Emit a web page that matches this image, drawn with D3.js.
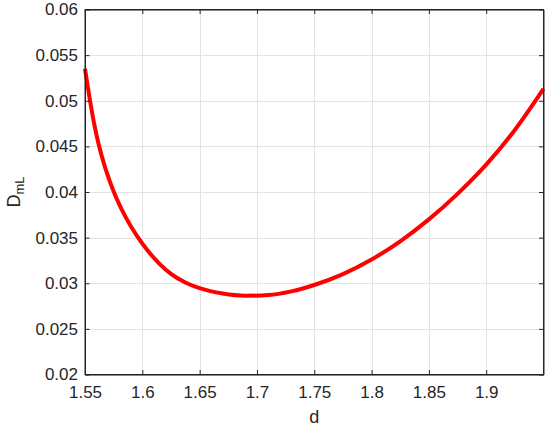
<!DOCTYPE html>
<html>
<head>
<meta charset="utf-8">
<script src="https://cdn.jsdelivr.net/npm/d3@7/dist/d3.min.js"></script>
<style>
html,body{margin:0;padding:0;background:#fff;}
text{font-family:"Liberation Sans",Arial,Helvetica,sans-serif;fill:#262626;}
</style>
</head>
<body>
<svg id="chart" width="550" height="427"></svg>
<script>
const dValues = [1.55,1.5544,1.558,1.5616,1.568,1.575,1.585,1.5956,1.605,1.615,1.625,1.6375,1.65,1.67,1.69,1.71,1.73,1.75,1.775,1.80,1.825,1.85,1.875,1.90,1.925,1.95];
const dmlValues = [0.0535,0.0500,0.04748,0.04539,0.04251,0.04006,0.03736,0.03513,0.03353,0.03213,0.03103,0.03009,0.02947,0.02887,0.02863,0.02871,0.02911,0.02981,0.0310,0.0326,0.0346,0.0370,0.0398,0.0430,0.0468,0.0513];
const xTicks = [1.55,1.6,1.65,1.7,1.75,1.8,1.85,1.9];
const yTicks = [0.02,0.025,0.03,0.035,0.04,0.045,0.05,0.055,0.06];
const xDomain = [1.55,1.95];
const yDomain = [0.02,0.06];

const svg = d3.select("#chart");
const L = 85, R = 543.5, T = 9.5, B = 374.5;
const x = d3.scaleLinear().domain(xDomain).range([L,R]);
const y = d3.scaleLinear().domain(yDomain).range([B,T]);
const axisCol = "#262626";
const fmt = v => String(+v.toFixed(4));

// grid
const g = svg.append("g");
g.selectAll(".vg").data(xTicks).enter().append("line")
  .attr("x1",d=>Math.round(x(d))+0.5).attr("x2",d=>Math.round(x(d))+0.5)
  .attr("y1",T).attr("y2",B).attr("stroke","#e3e3e3").attr("stroke-width",1);
g.selectAll(".hg").data(yTicks).enter().append("line")
  .attr("y1",d=>Math.round(y(d))+0.5).attr("y2",d=>Math.round(y(d))+0.5)
  .attr("x1",L).attr("x2",R).attr("stroke","#e3e3e3").attr("stroke-width",1);

// curve
const pts = dValues.map((d,i)=>[d,dmlValues[i]]);
svg.append("path").datum(pts)
  .attr("d", d3.line().x(p=>x(p[0])).y(p=>y(p[1])).curve(d3.curveMonotoneX))
  .attr("fill","none").attr("stroke","#ff0000").attr("stroke-width",4)
  .attr("stroke-linejoin","round");

// axes (ticks inward)
const tl = 4.5;
const xb = d3.axisBottom(x).tickValues(xTicks).tickFormat(fmt).tickSizeInner(-tl).tickSizeOuter(0).tickPadding(11);
const xt = d3.axisTop(x).tickValues(xTicks).tickFormat("").tickSizeInner(-tl).tickSizeOuter(0);
const yl = d3.axisLeft(y).tickValues(yTicks).tickFormat(fmt).tickSizeInner(-tl).tickSizeOuter(0).tickPadding(7);
const yr = d3.axisRight(y).tickValues(yTicks).tickFormat("").tickSizeInner(-tl).tickSizeOuter(0);

function style(sel){
  sel.selectAll("path").attr("stroke",axisCol).attr("stroke-width",1);
  sel.selectAll("line").attr("stroke",axisCol).attr("stroke-width",1);
  sel.selectAll("text").attr("font-size","17px").attr("fill",axisCol)
     .attr("font-family","'Liberation Sans',Arial,sans-serif");
}
style(svg.append("g").attr("transform",`translate(0,${B})`).call(xb));
style(svg.append("g").attr("transform",`translate(0,${T})`).call(xt));
style(svg.append("g").attr("transform",`translate(${L},0)`).call(yl));
style(svg.append("g").attr("transform",`translate(${R},0)`).call(yr));

// box
svg.append("rect").attr("x",L).attr("y",T).attr("width",R-L).attr("height",B-T)
  .attr("fill","none").attr("stroke",axisCol).attr("stroke-width",1);

// labels
svg.append("text").attr("x",(L+R)/2).attr("y",423).attr("text-anchor","middle")
  .attr("font-size","18px").text("d");
const yl2 = svg.append("text").attr("transform",`translate(20,${(T+B)/2}) rotate(-90)`)
  .attr("text-anchor","middle").attr("font-size","18px");
yl2.append("tspan").text("D");
yl2.append("tspan").attr("dy",4).attr("font-size","13px").text("mL");
</script>
</body>
</html>
